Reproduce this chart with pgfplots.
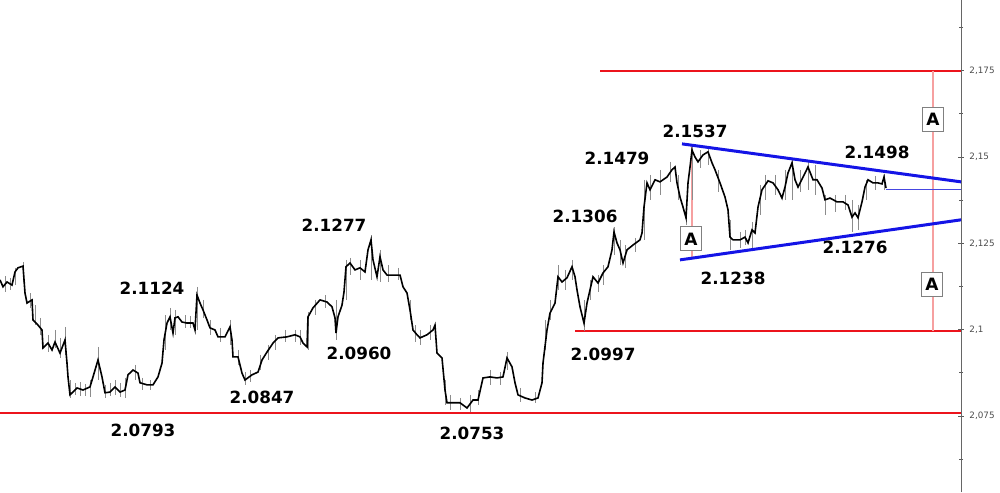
\documentclass[border=0pt]{standalone}
\usepackage{fontspec}
\setmainfont{DejaVu Sans}
\usepackage{pgfplots}
\usepackage{pgfplotstable}
\pgfplotsset{compat=1.18}
\definecolor{rl}{RGB}{236,20,28}
\definecolor{bl}{RGB}{20,20,230}
\definecolor{pk}{RGB}{246,160,160}
\definecolor{cur}{RGB}{70,70,225}
\definecolor{wk}{RGB}{140,140,140}

\pgfplotstableread{
x y
0 2.1144
3 2.1124
7 2.1138
12 2.1129
15 2.1167
18 2.1179
23 2.1184
25 2.1106
27 2.1077
32 2.1086
33 2.1028
38 2.1013
42 2.0999
43 2.0947
48 2.0961
52 2.0941
55 2.0964
60 2.0932
65 2.0970
67 2.0903
68 2.0863
70 2.0811
77 2.0831
83 2.0825
90 2.0834
93 2.0863
98 2.0912
102 2.0863
105 2.0817
110 2.0819
115 2.0834
120 2.0819
125 2.0825
128 2.0869
133 2.0883
138 2.0874
140 2.0846
147 2.0840
153 2.0840
158 2.0863
162 2.0903
164 2.0970
167 2.1019
170 2.1037
173 2.0990
175 2.1034
178 2.1037
182 2.1022
187 2.1019
193 2.1019
195 2.0999
197 2.1100
200 2.1077
203 2.1057
207 2.1028
210 2.1005
215 2.0999
218 2.0979
225 2.0979
230 2.1008
232 2.0970
233 2.0921
238 2.0921
242 2.0874
245 2.0854
252 2.0869
258 2.0877
262 2.0912
267 2.0935
273 2.0961
278 2.0976
287 2.0979
295 2.0985
300 2.0979
303 2.0961
307 2.0950
308 2.1037
313 2.1063
320 2.1086
327 2.1080
332 2.1066
335 2.1034
336 2.0990
338 2.1037
342 2.1071
344 2.1109
346 2.1182
350 2.1193
355 2.1173
360 2.1179
365 2.1167
368 2.1231
371 2.1260
373 2.1202
377 2.1153
380 2.1211
383 2.1173
387 2.1158
393 2.1158
400 2.1158
403 2.1124
407 2.1106
410 2.1057
413 2.0999
417 2.0985
420 2.0976
427 2.0985
433 2.0999
435 2.1013
437 2.0932
442 2.0918
445 2.0825
447 2.0788
453 2.0788
460 2.0788
467 2.0773
473 2.0796
478 2.0796
483 2.0860
490 2.0863
497 2.0860
503 2.0863
507 2.0918
512 2.0892
515 2.0846
518 2.0811
525 2.0802
532 2.0796
538 2.0802
542 2.0846
543 2.0903
547 2.0999
550 2.1048
555 2.1077
558 2.1153
562 2.1138
567 2.1150
572 2.1182
575 2.1153
577 2.1115
580 2.1066
584 2.1019
587 2.1077
590 2.1115
593 2.1153
598 2.1135
603 2.1164
608 2.1182
612 2.1231
614 2.1283
617 2.1251
620 2.1231
623 2.1193
627 2.1231
633 2.1245
640 2.1260
642 2.1280
644 2.1355
647 2.1425
650 2.1405
655 2.1434
660 2.1428
667 2.1442
672 2.1463
675 2.1471
677 2.1425
680 2.1384
683 2.1355
686 2.1324
688 2.1425
690 2.1471
692 2.1520
695 2.1500
698 2.1486
703 2.1506
708 2.1515
712 2.1483
715 2.1463
720 2.1425
725 2.1384
728 2.1347
730 2.1268
733 2.1260
740 2.1260
745 2.1268
748 2.1251
752 2.1289
755 2.1280
758 2.1355
762 2.1405
768 2.1431
773 2.1425
778 2.1405
782 2.1381
785 2.1413
788 2.1454
792 2.1483
795 2.1434
798 2.1413
803 2.1442
808 2.1471
813 2.1434
817 2.1434
822 2.1410
825 2.1376
830 2.1381
837 2.1370
843 2.1370
848 2.1361
852 2.1326
855 2.1338
858 2.1324
862 2.1370
865 2.1413
868 2.1434
873 2.1425
878 2.1425
882 2.1422
884 2.1442
886 2.1410
}\price

% high-low wicks: x, high, low, separated by nan rows
\pgfplotstableread{
x y
5 2.1155
5 2.1109
5 nan
10 2.1150
10 2.1115
10 nan
15 2.1179
15 2.1129
15 nan
23 2.1196
23 2.1138
23 nan
30 2.1106
30 2.1063
30 nan
35 2.1071
35 2.1013
35 nan
40 2.1034
40 2.0985
40 nan
48 2.0985
48 2.0935
48 nan
55 2.0999
55 2.0947
55 nan
60 2.0976
60 2.0918
60 nan
65 2.1008
65 2.0927
65 nan
70 2.0854
70 2.0802
70 nan
75 2.0846
75 2.0811
75 nan
80 2.0848
80 2.0808
80 nan
85 2.0843
85 2.0808
85 nan
90 2.0854
90 2.0805
90 nan
98 2.0950
98 2.0854
98 nan
105 2.0840
105 2.0802
105 nan
110 2.0846
110 2.0808
110 nan
115 2.0854
115 2.0811
115 nan
120 2.0846
120 2.0805
120 nan
125 2.0860
125 2.0802
125 nan
135 2.0898
135 2.0854
135 nan
142 2.0860
142 2.0825
142 nan
150 2.0854
150 2.0825
150 nan
165 2.1042
165 2.0941
165 nan
170 2.1063
170 2.0999
170 nan
175 2.1057
175 2.0985
175 nan
185 2.1042
185 2.1005
185 nan
190 2.1040
190 2.1005
190 nan
197 2.1124
197 2.0999
197 nan
203 2.1086
203 2.1034
203 nan
210 2.1028
210 2.0985
210 nan
220 2.1005
220 2.0964
220 nan
230 2.1028
230 2.0956
230 nan
238 2.0941
238 2.0898
238 nan
245 2.0877
245 2.0840
245 nan
250 2.0883
250 2.0848
250 nan
260 2.0927
260 2.0883
260 nan
268 2.0956
268 2.0912
268 nan
275 2.0985
275 2.0941
275 nan
285 2.0999
285 2.0964
285 nan
295 2.0999
295 2.0964
295 nan
300 2.0999
300 2.0956
300 nan
308 2.1051
308 2.0941
308 nan
315 2.1086
315 2.1042
315 nan
325 2.1100
325 2.1063
325 nan
336 2.1086
336 2.0970
336 nan
346 2.1202
346 2.1086
346 nan
350 2.1208
350 2.1158
350 nan
360 2.1202
360 2.1144
360 nan
371 2.1274
371 2.1144
371 nan
380 2.1231
380 2.1138
380 nan
388 2.1187
388 2.1138
388 nan
398 2.1179
398 2.1144
398 nan
410 2.1086
410 2.1028
410 nan
415 2.1013
415 2.0964
415 nan
420 2.0999
420 2.0956
420 nan
430 2.1013
430 2.0970
430 nan
445 2.0854
445 2.0782
445 nan
450 2.0811
450 2.0767
450 nan
460 2.0802
460 2.0767
460 nan
470 2.0811
470 2.0761
470 nan
478 2.0825
478 2.0782
478 nan
490 2.0883
490 2.0840
490 nan
500 2.0877
500 2.0840
500 nan
507 2.0935
507 2.0883
507 nan
520 2.0831
520 2.0790
520 nan
535 2.0819
535 2.0788
535 nan
545 2.1028
545 2.0941
545 nan
550 2.1086
550 2.1028
550 nan
558 2.1187
558 2.1115
558 nan
565 2.1173
565 2.1115
565 nan
572 2.1202
572 2.1144
572 nan
584 2.1086
584 2.0996
584 nan
590 2.1144
590 2.1086
590 nan
598 2.1158
598 2.1109
598 nan
603 2.1187
603 2.1129
603 nan
614 2.1297
614 2.1216
614 nan
620 2.1260
620 2.1187
620 nan
625 2.1245
625 2.1179
625 nan
635 2.1266
635 2.1225
635 nan
644 2.1434
644 2.1260
644 nan
650 2.1448
650 2.1376
650 nan
660 2.1463
660 2.1390
660 nan
670 2.1486
670 2.1428
670 nan
678 2.1448
678 2.1376
678 nan
686 2.1376
686 2.1303
686 nan
692 2.1532
692 2.1376
692 nan
700 2.1520
700 2.1468
700 nan
708 2.1526
708 2.1477
708 nan
718 2.1463
718 2.1399
718 nan
730 2.1318
730 2.1231
730 nan
740 2.1283
740 2.1237
740 nan
745 2.1289
745 2.1245
745 nan
752 2.1312
752 2.1231
752 nan
760 2.1419
760 2.1332
760 nan
765 2.1448
765 2.1376
765 nan
775 2.1448
775 2.1390
775 nan
785 2.1463
785 2.1376
785 nan
792 2.1492
792 2.1376
792 nan
800 2.1463
800 2.1399
800 nan
808 2.1486
808 2.1405
808 nan
815 2.1477
815 2.1390
815 nan
825 2.1390
825 2.1332
825 nan
835 2.1390
835 2.1341
835 nan
845 2.1390
845 2.1347
845 nan
852 2.1376
852 2.1283
852 nan
858 2.1361
858 2.1289
858 nan
866 2.1434
866 2.1376
866 nan
875 2.1445
875 2.1405
875 nan
884 2.1451
884 2.1405
}\wicks

\begin{document}
\begin{tikzpicture}
\begin{axis}[
  at={(0,0)}, anchor=south west,
  scale only axis, width=480.5pt, height=246pt,
  xmin=0, xmax=961, ymin=2.05296, ymax=2.19548,
  axis x line=none, axis y line*=right,
  axis line style={draw=gray!80!black, line width=0.5pt},
  xtick=\empty,
  ytick={2.075,2.1,2.125,2.15,2.175},
  minor ytick={2.0625,2.0875,2.1125,2.1375,2.1625,2.1875},
  tick align=center,
  major tick length=2.6pt, minor tick length=2pt,
  tick style={draw=gray!70!black, line width=0.4pt},
  yticklabel style={font=\fontsize{4.4}{5}\selectfont, text=black!70, xshift=-0.6pt},
  /pgf/number format/.cd, fixed, precision=3, use comma, assume math mode=true,
  /pgfplots/.cd,
  clip=false,
  unbounded coords=jump,
]
% red horizontal levels
\addplot[rl, line width=1pt] coordinates {(600,2.175) (961,2.175)};
\addplot[rl, line width=1pt] coordinates {(575,2.0995) (961,2.0995)};
\addplot[rl, line width=1pt] coordinates {(0,2.0759) (961,2.0759)};
% pink measurement lines
\addplot[pk, line width=0.7pt] coordinates {(692,2.1532) (692,2.1205)};
\addplot[pk, line width=0.7pt] coordinates {(933,2.175) (933,2.0995)};
% wicks and price
\addplot[wk, line width=0.5pt] table {\wicks};
\addplot[black, line width=0.8pt] table {\price};
% current price line
\addplot[cur, line width=0.45pt] coordinates {(886,2.1407) (961,2.1407)};
% triangle
\addplot[bl, line width=1.5pt] coordinates {(682,2.1538) (961,2.1428)};
\addplot[bl, line width=1.5pt] coordinates {(680,2.1202) (961,2.1318)};
% labels
\begin{scope}[every node/.style={font=\bfseries\fontsize{8.4}{10}\selectfont, inner sep=0pt}]
\node at (axis cs:152,2.1121) {2.1124};
\node at (axis cs:143,2.0709) {2.0793};
\node at (axis cs:262,2.0805) {2.0847};
\node at (axis cs:334,2.1303) {2.1277};
\node at (axis cs:359,2.0930) {2.0960};
\node at (axis cs:472,2.0698) {2.0753};
\node at (axis cs:585,2.1329) {2.1306};
\node at (axis cs:617,2.1497) {2.1479};
\node at (axis cs:695,2.1573) {2.1537};
\node at (axis cs:603,2.0927) {2.0997};
\node at (axis cs:733,2.1147) {2.1238};
\node at (axis cs:877,2.1512) {2.1498};
\node at (axis cs:855,2.1237) {2.1276};
\end{scope}
\begin{scope}[every node/.style={font=\bfseries\fontsize{8.5}{10}\selectfont, draw=gray, fill=white, line width=0.5pt, minimum width=10.5pt, minimum height=12pt, inner sep=0pt}]
\node at (axis cs:691,2.1263) {A};
\node at (axis cs:933,2.1610) {A};
\node at (axis cs:932,2.1132) {A};
\end{scope}
\end{axis}
\pgfresetboundingbox
\useasboundingbox (0,0) rectangle (500pt,246pt);
\end{tikzpicture}
\end{document}
